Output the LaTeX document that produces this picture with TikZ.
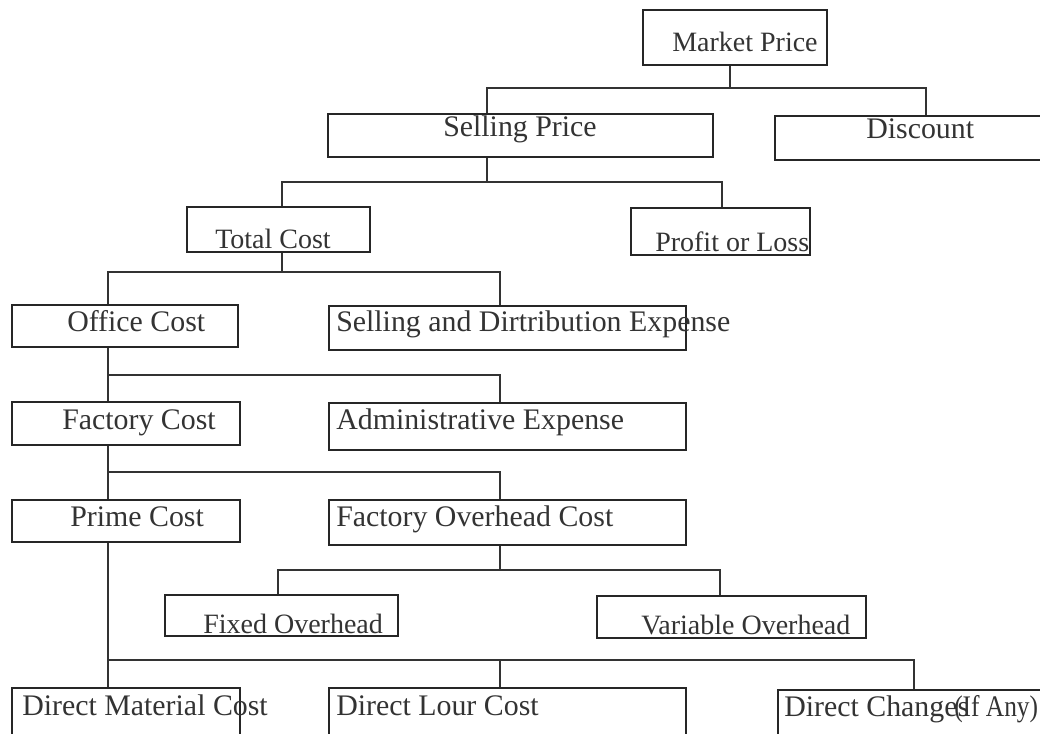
\documentclass[tikz,border=0pt]{standalone}
\usepackage{fontspec}
\setmainfont{Liberation Serif}
\newfontfamily\narrowserif[FakeStretch=0.85]{Liberation Serif}
\usetikzlibrary{fit}

\tikzset{
  thickbox/.style={draw=black!85, line width=1.7pt, inner sep=0pt},
  thinbox/.style={draw=black!85, line width=1pt, inner sep=0pt},
  lbl/.style={anchor=base west, inner sep=0pt, text=black!80, font=\fontsize{22.4}{26}\selectfont},
  smalllbl/.style={lbl, font=\fontsize{21}{24}\selectfont},
  link/.style={draw=black!80, line width=0.9pt},
}

\begin{document}
\begin{tikzpicture}[x=0.75pt,y=0.75pt,yscale=-1,xscale=1]
\useasboundingbox (0,0) rectangle (1040,734);

% Boxes
\node [thickbox, fit={(643,10) (827,65)}] (mp) {};
\node [thickbox, fit={(328,114) (713,157)}] (sp) {};
\node [thickbox, fit={(775,116) (1045,160)}] (dc) {};
\node [thinbox, fit={(187,207) (370,252)}] (tc) {};
\node [thinbox, fit={(631,208) (810,255)}] (pl) {};
\node [thickbox, fit={(12,305) (238,347)}] (oc) {};
\node [thickbox, fit={(329,306) (686,350)}] (sde) {};
\node [thickbox, fit={(12,402) (240,445)}] (fc) {};
\node [thickbox, fit={(329,403) (686,450)}] (ae) {};
\node [thickbox, fit={(12,500) (240,542)}] (pc) {};
\node [thickbox, fit={(329,500) (686,545)}] (foc) {};
\node [thinbox, fit={(165,595) (398,636)}] (fo) {};
\node [thinbox, fit={(597,596) (866,638)}] (vo) {};
\node [thickbox, fit={(12,688) (240,745)}] (dmc) {};
\node [thickbox, fit={(329,688) (686,745)}] (dlc) {};
\node [thickbox, fit={(778,690) (1045,745)}] (dch) {};

% Text Nodes
\node [smalllbl] (tmp) at (672,52) {Market Price};
\node [lbl] (tsp) at (443,137) {Selling Price};
\node [lbl] (tdc) at (866,139) {Discount};
\node [smalllbl] (ttc) at (215,249) {Total Cost};
\node [smalllbl] (tpl) at (655,252) {Profit or Loss};
\node [lbl] (toc) at (67,332) {Office Cost};
\node [lbl] (tsde) at (336,332) {Selling and Dirtribution Expense};
\node [lbl] (tfc) at (62,430) {Factory Cost};
\node [lbl] (tae) at (336,430) {Administrative Expense};
\node [lbl] (tpc) at (70,527) {Prime Cost};
\node [lbl] (tfoc) at (336,527) {Factory Overhead Cost};
\node [smalllbl] (tfo) at (203,633) {Fixed Overhead};
\node [smalllbl] (tvo) at (641,634) {Variable Overhead};
\node [lbl] (tdmc) at (22,715) {Direct Material Cost};
\node [lbl] (tdlc) at (336,715) {Direct Lour Cost};
\node [lbl] (tdch) at (784,716) {Direct Changes};
\node [lbl, font=\narrowserif\fontsize{22.4}{26}\selectfont] (tany) at (954,716) {(If Any)};

% Bus lines
\coordinate (busA) at (487,88);
\coordinate (busAr) at (926,88);
\coordinate (busB) at (282,182);
\coordinate (busBr) at (722,182);
\coordinate (busC) at (108,272);
\coordinate (busCr) at (500,272);
\coordinate (busD) at (500,375);
\coordinate (busE) at (500,472);
\coordinate (busF) at (278,570);
\coordinate (busFr) at (720,570);
\coordinate (busG) at (500,660);
\coordinate (busGr) at (914,660);

%Straight Lines
\draw [link] (mp.south -| 730,0) -- (busA -| 730,0);
\draw [link] (sp.north -| busA) -- (busA) -- (busAr) -- (busAr |- dc.north);
\draw [link] (sp.south -| busA) -- (busA |- busB);
\draw [link] (tc.north -| busB) -- (busB) -- (busBr) -- (busBr |- pl.north);
\draw [link] (tc.south -| busB) -- (busB |- busC);
\draw [link] (oc.north -| busC) -- (busC) -- (busCr) -- (busCr |- sde.north);
\draw [link] (oc.south -| busC) -- (fc.north -| busC);
\draw [link] (busD -| busC) -- (busD) -- (busD |- ae.north);
\draw [link] (fc.south -| busC) -- (pc.north -| busC);
\draw [link] (busE -| busC) -- (busE) -- (busE |- foc.north);
\draw [link] (foc.south -| busD) -- (busD |- busF);
\draw [link] (fo.north -| busF) -- (busF) -- (busFr) -- (busFr |- vo.north);
\draw [link] (pc.south -| busC) -- (dmc.north -| busC);
\draw [link] (busG -| busC) -- (busGr) -- (busGr |- dch.north);
\draw [link] (busG) -- (busG |- dlc.north);

\end{tikzpicture}
\end{document}
